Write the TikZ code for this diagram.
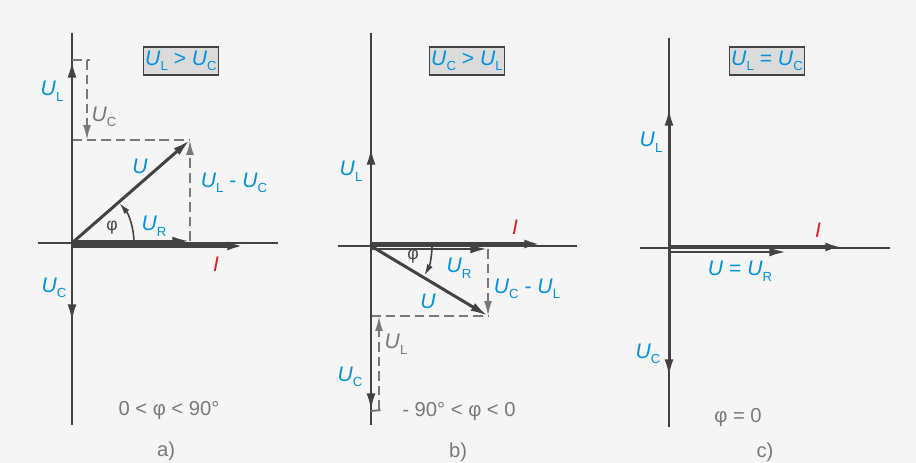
\documentclass[tikz,border=0pt]{standalone}
\usepackage{fontspec}
\setmainfont{Liberation Sans}
\usetikzlibrary{arrows.meta,positioning,calc}
\definecolor{lblblue}{RGB}{0,146,221}
\definecolor{lblred}{RGB}{226,30,36}
\definecolor{inkgray}{RGB}{66,66,66}
\definecolor{dashgray}{RGB}{120,120,120}
\newcommand{\vsub}[1]{\textit{U}\raisebox{-0.5ex}{\fontsize{7.5}{7.5}\selectfont #1}}

\begin{document}
\begin{tikzpicture}[
  x=0.02cm, y=0.02cm,
  axis/.style={draw=inkgray, line width=0.8pt},
  vec/.style={draw=inkgray, line width=1.7pt, -{Latex[length=10pt, width=5pt]}},
  cur/.style={vec, line width=2.6pt},
  dline/.style={draw=dashgray, line width=1.1pt, dash pattern=on 5.5pt off 2.8pt},
  darr/.style={dline, -{Latex[length=8.5pt, width=4.5pt]}},
  arcvec/.style={draw=inkgray, line width=0.9pt, -{Latex[length=6.5pt, width=3.6pt]}},
  lbl/.style={text=lblblue, font=\fontsize{12}{12}\selectfont, inner sep=1pt},
  glbl/.style={lbl, text=dashgray},
  ilbl/.style={lbl, text=lblred},
  phi/.style={text=inkgray, font=\fontsize{10}{10}\selectfont, inner sep=0pt},
  caption/.style={text=dashgray, font=\fontsize{11.5}{11.5}\selectfont, inner sep=1pt},
  cbox/.style={draw=inkgray, fill=black!14, line width=0.6pt, minimum width=1.5cm,
    minimum height=0.56cm, inner sep=1pt, text=lblblue, font=\fontsize{12}{12}\selectfont}
]
\fill[white!96!black] (0,0) rectangle (916,463);
\useasboundingbox (0,0) rectangle (916,463);

% a) U_L > U_C
\coordinate (Oa) at (72,220);
\coordinate (aT) at (72,430);
\coordinate (aB) at (72,38);
\coordinate (aW) at (38,220);
\coordinate (aE) at (278,220);
\coordinate (aL) at (72,403);
\coordinate (aC) at (72,141);
\coordinate (aU) at (190,323);
\coordinate (aQ) at (72,323);
\coordinate (aR) at (190,222);
\coordinate (aI) at (245,217);
\coordinate (aK) at (87,403);
\draw[axis] (aT) -- (aB);
\draw[axis] (aW) -- (aE);
\draw[dline] (aL) -- (90,403);
\draw[darr] (aK) -- (aK |- aQ);
\draw[dline] (aQ) -- (aU);
\draw[darr] (aR) -- (aU);
\draw[vec] (Oa) -- (aL);
\draw[vec] (Oa) -- (aC);
\draw[vec] (Oa) -- (aU);
\draw[vec] ($(Oa)+(0,2)$) -- (aR);
\draw[cur] ($(Oa)+(0,-3)$) -- (aI);
\draw[arcvec] ($(Oa)+(62,0)$) arc[start angle=0, end angle=40, radius=62];
\node[phi] (phia) at (112,235) {φ};
\node[cbox] (boxa) at (181,402) {\vsub{L} > \vsub{C}};
\node[lbl] (ULa) at (52,372) {\vsub{L}};
\node[glbl] (UCa) at (104,346) {\vsub{C}};
\node[lbl] (Ua) at (140,297) {\textit{U}};
\node[lbl] (ULCa) at (234,280) {\vsub{L} - \vsub{C}};
\node[lbl] (URa) at (154,237) {\vsub{R}};
\node[ilbl] (Ia) at (216,199) {\textit{I}};
\node[lbl] (UCa2) at (54,175) {\vsub{C}};
\node[caption] (capa) at (169,52) {0 < φ < 90°};
\node[caption] (taga) at (166,12) {a)};

% b) U_C > U_L
\coordinate (Ob) at (371,217);
\coordinate (bT) at (371,430);
\coordinate (bB) at (371,38);
\coordinate (bW) at (338,217);
\coordinate (bE) at (577,217);
\coordinate (bL) at (371,316);
\coordinate (bC) at (371,52);
\coordinate (bU) at (488,147);
\coordinate (bQ) at (371,147);
\coordinate (bR) at (488,214);
\coordinate (bI) at (542,219);
\coordinate (bK) at (379,53);
\draw[axis] (bT) -- (bB);
\draw[axis] (bW) -- (bE);
\draw[dline] (bQ) -- (bU);
\draw[darr] (bR) -- (bU);
\draw[darr] (bK) -- (bK |- bQ);
\draw[dline] (bC) -- (382,53);
\draw[vec] (Ob) -- (bL);
\draw[vec] (Ob) -- (bC);
\draw[cur] ($(Ob)+(0,2)$) -- (bI);
\draw[vec] ($(Ob)+(0,-3)$) -- (bR);
\draw[vec] (Ob) -- (bU);
\draw[arcvec] ($(Ob)+(61,0)$) arc[start angle=0, end angle=-29, radius=61];
\node[phi] (phib) at (413,206) {φ};
\node[cbox] (boxb) at (467,402) {\vsub{C} > \vsub{L}};
\node[lbl] (ULb) at (351,292) {\vsub{L}};
\node[ilbl] (Ib) at (515,236) {\textit{I}};
\node[lbl] (URb) at (459,195) {\vsub{R}};
\node[lbl] (UCLb) at (527,174) {\vsub{C} - \vsub{L}};
\node[lbl] (Ub) at (428,162) {\textit{U}};
\node[glbl] (ULb2) at (396,119) {\vsub{L}};
\node[lbl] (UCb) at (350,86) {\vsub{C}};
\node[caption] (capb) at (459,51) {- 90° < φ < 0};
\node[caption] (tagb) at (458,11) {b)};

% c) U_L = U_C
\coordinate (Oc) at (669,215);
\coordinate (cT) at (669,425);
\coordinate (cB) at (669,36);
\coordinate (cW) at (640,215);
\coordinate (cE) at (890,215);
\coordinate (cL) at (669,355);
\coordinate (cC) at (669,86);
\coordinate (cR) at (787,211);
\coordinate (cI) at (843,216);
\draw[axis] (cT) -- (cB);
\draw[axis] (cW) -- (cE);
\draw[vec] (Oc) -- (cL);
\draw[vec] (Oc) -- (cC);
\draw[cur] ($(Oc)+(0,1)$) -- (cI);
\draw[vec] ($(Oc)+(0,-4)$) -- (cR);
\node[cbox] (boxc) at (767,402) {\vsub{L} = \vsub{C}};
\node[lbl] (ULc) at (651,321) {\vsub{L}};
\node[ilbl] (Ic) at (818,233) {\textit{I}};
\node[lbl] (URc) at (740,192) {\textit{U} = \vsub{R}};
\node[lbl] (UCc) at (648,109) {\vsub{C}};
\node[caption] (capc) at (738,45) {φ = 0};
\node[caption] (tagc) at (765,11) {c)};
\end{tikzpicture}
\end{document}
